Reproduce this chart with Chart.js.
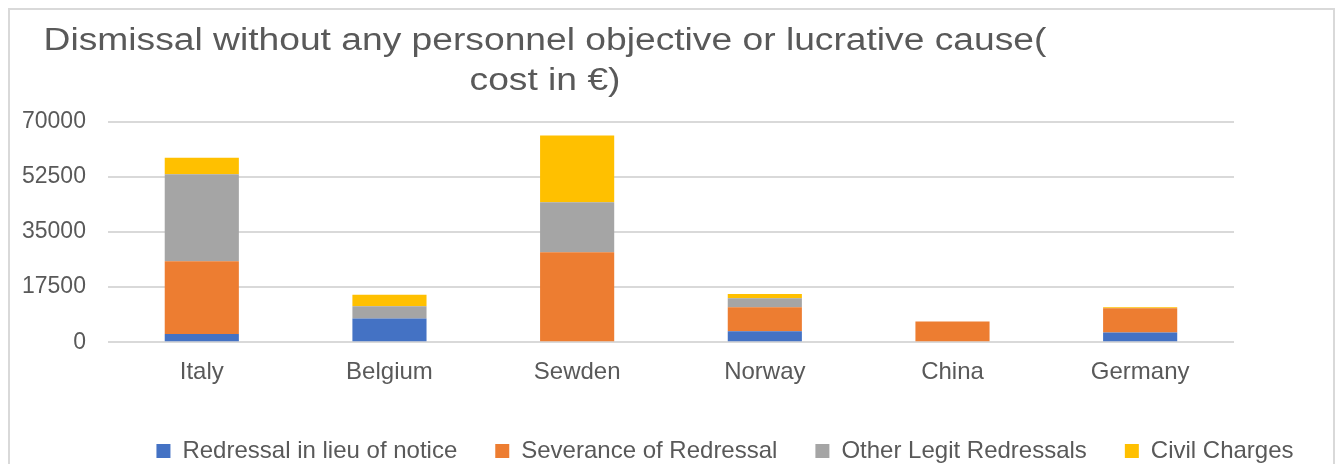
<!DOCTYPE html>
<html>
<head>
<meta charset="utf-8">
<script src="https://cdn.jsdelivr.net/npm/chart.js"></script>
<style>
  html, body { margin: 0; padding: 0; background: #fff; overflow: hidden; }
  #wrap { width: 1338px; height: 464px; position: relative; }
</style>
</head>
<body>
<div id="wrap"><canvas id="chart"></canvas></div>
<script>
const countries = ['Italy', 'Belgium', 'Sewden', 'Norway', 'China', 'Germany'];
const inLieuOfNotice = [2600, 7500, 0, 3500, 0, 3100];
const severance = [23100, 0, 28600, 7600, 6600, 7700];
const otherLegit = [27700, 3900, 15900, 2900, 0, 0];
const civilCharges = [5200, 3700, 21200, 1300, 0, 300];
const yTicks = [0, 17500, 35000, 52500, 70000];

const titleLines = ['Dismissal without any personnel objective or lucrative cause(', 'cost in €)'];
const FONT = '"Liberation Sans", Arial, sans-serif';
const TEXT = '#595959';
const LEGEND_H = 61;

// title, frame, and a one-row legend placed like Excel's
const decor = {
  id: 'decor',
  afterInit(chart) {
    const lg = chart.legend;
    const fit = lg.fit;
    lg.fit = function () {
      const mw = this.maxWidth;
      this.maxWidth = 3000;
      fit.call(this);
      this.maxWidth = mw;
      this.width = mw;
      this.height = LEGEND_H;
    };
  },
  afterLayout(chart) {
    const lg = chart.legend;
    lg.left = 725 - 700;
    lg.right = 725 + 700;
    lg.top = 401;
    lg.bottom = lg.top + 78;
  },
  afterDraw(chart) {
    const ctx = chart.ctx;
    ctx.save();
    ctx.strokeStyle = '#d9d9d9';
    ctx.lineWidth = 2;
    ctx.strokeRect(9, 9, 1325, 500);
    ctx.fillStyle = TEXT;
    ctx.font = '31px ' + FONT;
    ctx.textAlign = 'center';
    ctx.textBaseline = 'alphabetic';
    ctx.translate(545, 0);
    ctx.scale(1.2, 1);
    ctx.fillText(titleLines[0], 0, 50);
    ctx.fillText(titleLines[1], 0, 90);
    ctx.restore();
  }
};

new Chart(document.getElementById('chart'), {
  type: 'bar',
  data: {
    labels: countries,
    datasets: [
      { label: 'Redressal in lieu of notice', data: inLieuOfNotice, backgroundColor: '#4472C4' },
      { label: 'Severance of Redressal', data: severance, backgroundColor: '#ED7D31' },
      { label: 'Other Legit Redressals', data: otherLegit, backgroundColor: '#A5A5A5' },
      { label: 'Civil Charges', data: civilCharges, backgroundColor: '#FFC000' }
    ]
  },
  options: {
    responsive: true,
    maintainAspectRatio: false,
    animation: false,
    devicePixelRatio: 1,
    categoryPercentage: 1,
    barPercentage: 0.395,
    layout: { padding: { top: 122, left: 0, right: 104, bottom: 0 } },
    scales: {
      x: {
        stacked: true,
        grid: { display: false, drawTicks: false },
        border: { display: false },
        ticks: { color: TEXT, font: { family: FONT, size: 24 }, padding: 16 }
      },
      y: {
        stacked: true,
        min: 0,
        max: 70000,
        afterBuildTicks(axis) { axis.ticks = yTicks.map(v => ({ value: v })); },
        grid: { color: '#d9d9d9', lineWidth: 2, drawTicks: false },
        border: { display: false },
        ticks: {
          color: TEXT,
          font: { family: FONT, size: 23 },
          padding: 22,
          callback: v => String(v)
        }
      }
    },
    plugins: {
      legend: {
        position: 'bottom',
        labels: {
          color: TEXT,
          font: { family: FONT, size: 24 },
          boxWidth: 14,
          boxHeight: 14,
          padding: 38
        }
      },
      tooltip: { enabled: false }
    }
  },
  plugins: [decor]
});
</script>
</body>
</html>
